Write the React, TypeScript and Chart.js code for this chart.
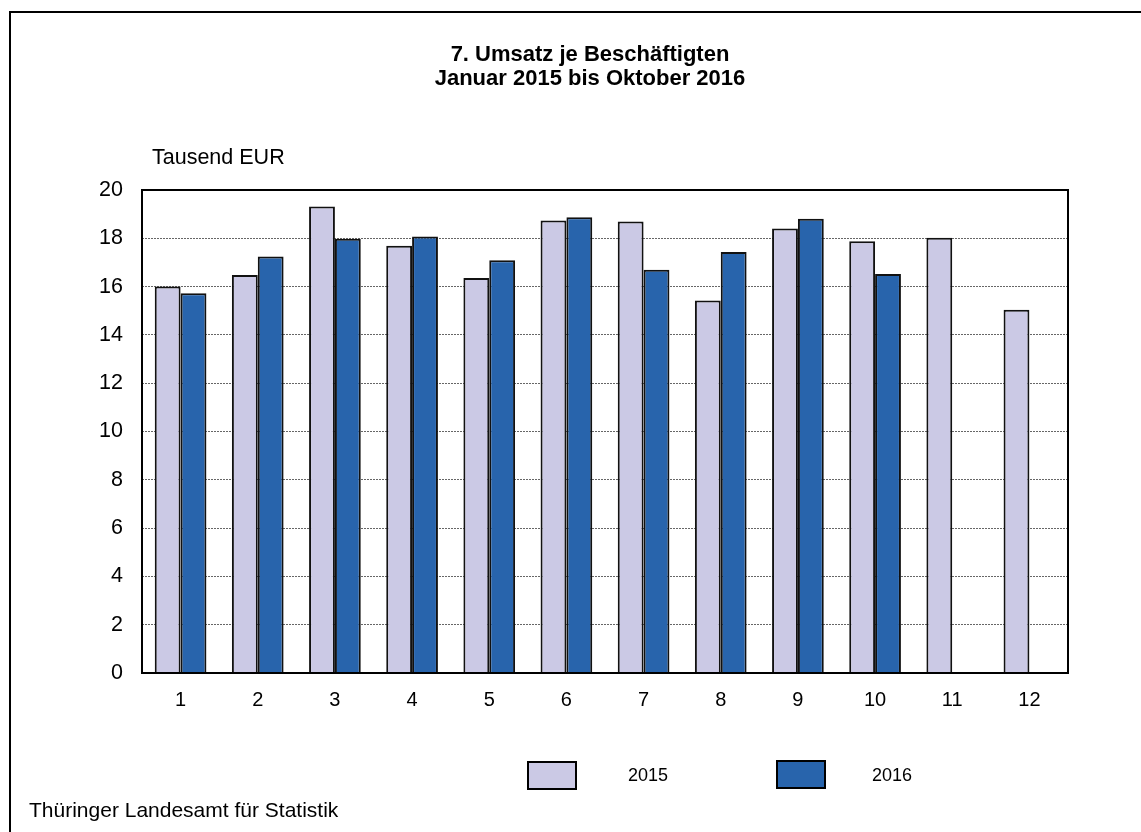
import React, { useEffect, useRef } from "react";
import { Chart, registerables } from "chart.js";

Chart.register(...registerables);

const months = ["1", "2", "3", "4", "5", "6", "7", "8", "9", "10", "11", "12"];
const values2015 = [16.0, 16.48, 19.32, 17.69, 16.36, 18.74, 18.7, 15.42, 18.41, 17.88, 18.02, 15.04];
const values2016: (number | null)[] = [15.72, 17.25, 17.98, 18.07, 17.09, 18.87, 16.7, 17.43, 18.81, 16.52, null, null];
const yTicks = [0, 2, 4, 6, 8, 10, 12, 14, 16, 18, 20];
const seriesNames = ["2015", "2016"];
const titleLines = ["7. Umsatz je Beschäftigten", "Januar 2015 bis Oktober 2016"];
const unitLabel = "Tausend EUR";
const sourceLabel = "Thüringer Landesamt für Statistik";

const FONT = "'Liberation Sans', Arial, sans-serif";
const C2015 = "#CBC9E5";
const C2016 = "#2864AC";

const decorPlugin = {
  id: "decor",
  beforeDraw(chart: any) {
    const ctx = chart.ctx;
    ctx.save();
    ctx.fillStyle = "#ffffff";
    ctx.fillRect(0, 0, chart.width, chart.height);
    ctx.restore();
  },
  afterDatasetsDraw(chart: any) {
    const ctx = chart.ctx;
    const a = chart.chartArea;
    ctx.save();
    ctx.strokeStyle = "#000";
    ctx.lineWidth = 2;
    ctx.strokeRect(a.left, a.top, a.right - a.left, a.bottom - a.top);
    ctx.restore();
  },
  afterDraw(chart: any) {
    const ctx = chart.ctx;
    ctx.save();
    // outer border
    ctx.strokeStyle = "#000";
    ctx.lineWidth = 2;
    ctx.strokeRect(10, 12, 1200, 1000);
    // title
    ctx.fillStyle = "#000";
    ctx.textAlign = "center";
    ctx.textBaseline = "middle";
    ctx.font = `bold 22px ${FONT}`;
    ctx.fillText(titleLines[0], 590, 55);
    ctx.fillText(titleLines[1], 590, 79);
    // unit label
    ctx.font = `21.5px ${FONT}`;
    ctx.textAlign = "left";
    ctx.fillText(unitLabel, 152, 158);
    // source
    ctx.font = `21px ${FONT}`;
    ctx.fillText(sourceLabel, 29, 811);
    // legend
    ctx.font = `18px ${FONT}`;
    const ds = chart.data.datasets;
    const boxes = [
      { x: 528, y: 762, tx: 628 },
      { x: 777, y: 761, tx: 872 },
    ];
    ds.forEach((d: any, i: number) => {
      const b = boxes[i];
      ctx.fillStyle = d.backgroundColor;
      ctx.fillRect(b.x, b.y, 48, 27);
      ctx.strokeStyle = "#000";
      ctx.lineWidth = 2;
      ctx.strokeRect(b.x, b.y, 48, 27);
      ctx.fillStyle = "#000";
      ctx.fillText(d.label, b.tx, 776);
    });
    ctx.restore();
  },
};

export default function App() {
  const ref = useRef<HTMLCanvasElement>(null);
  useEffect(() => {
    if (!ref.current) return;
    const chart = new Chart(ref.current, {
      type: "bar",
      data: {
        labels: months,
        datasets: [
          {
            label: seriesNames[0],
            data: values2015,
            backgroundColor: C2015,
            borderColor: "#111",
            borderWidth: 2,
            categoryPercentage: 0.67,
            barPercentage: 1.0,
          },
          {
            label: seriesNames[1],
            data: values2016,
            backgroundColor: C2016,
            borderColor: "#111",
            borderWidth: 2,
            categoryPercentage: 0.67,
            barPercentage: 1.0,
          },
        ],
      },
      options: {
        responsive: false,
        devicePixelRatio: 1,
        animation: false,
        layout: { padding: { left: 0, top: 190, right: 73, bottom: 0 } },
        plugins: {
          legend: { display: false },
          title: { display: false },
          tooltip: { enabled: false },
        },
        scales: {
          x: {
            grid: { display: false, drawTicks: false },
            border: { display: false },
            ticks: {
              color: "#000",
              font: { family: FONT, size: 20 },
              padding: 15,
              maxRotation: 0,
            },
            afterFit: (s: any) => {
              s.height = 832 - 673;
            },
          },
          y: {
            min: 0,
            max: 20,
            afterBuildTicks: (s: any) => {
              s.ticks = yTicks.map((v) => ({ value: v }));
            },
            grid: {
              color: "#666",
              lineWidth: 1,
              drawTicks: false,
              tickLength: 0,
            },
            border: { display: false, dash: [2, 1] },
            ticks: {
              color: "#000",
              font: { family: FONT, size: 21.5 },
              padding: 19,
            },
            afterFit: (s: any) => {
              s.width = 142;
            },
          },
        },
      },
      plugins: [decorPlugin],
    } as any);
    return () => chart.destroy();
  }, []);
  return (
    <div style={{ position: "absolute", left: 0, top: 0, width: 1141, height: 832 }}>
      <canvas ref={ref} width={1141} height={832} style={{ width: 1141, height: 832, display: "block" }} />
    </div>
  );
}
